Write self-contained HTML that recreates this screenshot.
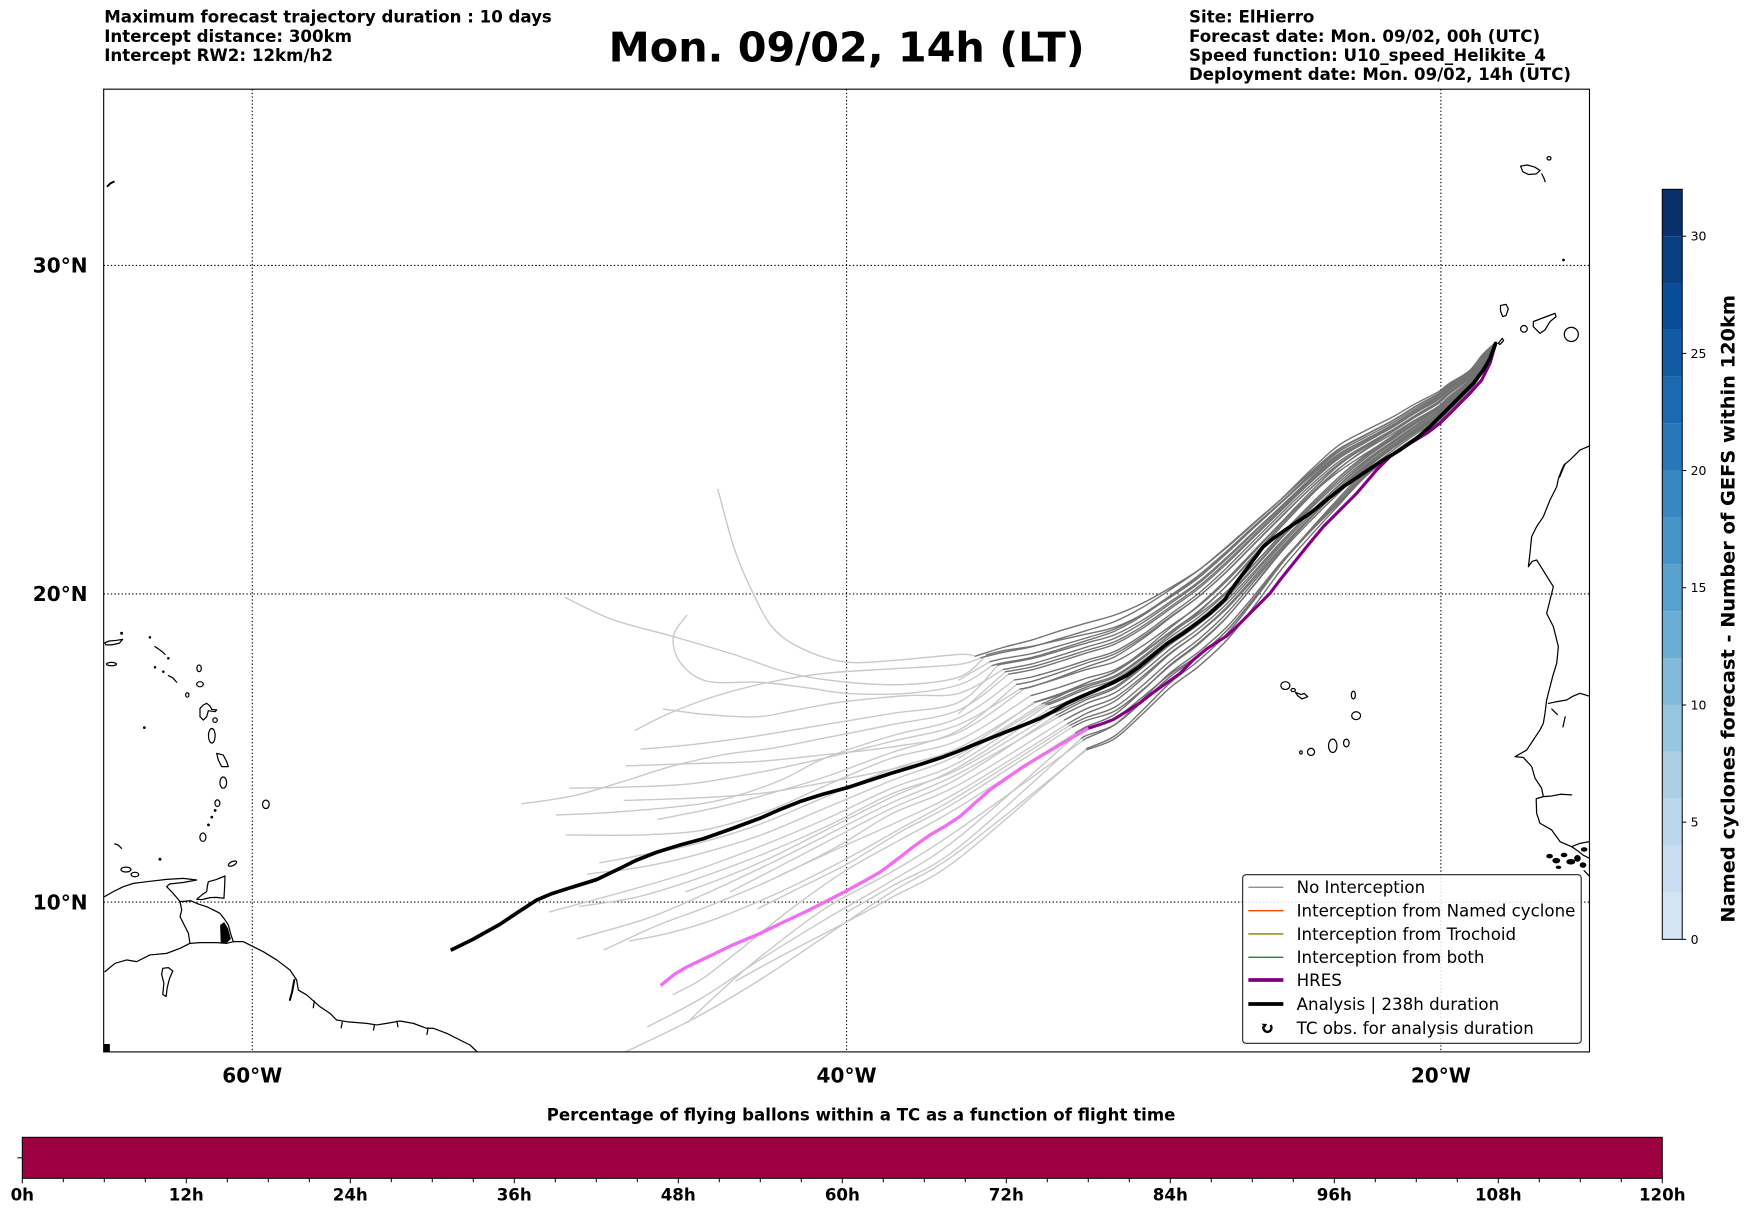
<!DOCTYPE html>
<html><head><meta charset="utf-8">
<style>
html,body{margin:0;padding:0;background:#fff}
svg{display:block}
text{font-family:"DejaVu Sans","Liberation Sans",sans-serif}
.b{font-weight:bold}
</style></head>
<body>
<svg id="s" xmlns="http://www.w3.org/2000/svg" width="1748" height="1213" viewBox="0 0 1568 1088.1" preserveAspectRatio="none">
<defs>
<clipPath id="ax"><rect x="93" y="80" width="1332.8" height="863.6"/></clipPath>
</defs>
<rect x="0" y="0" width="1568" height="1088.1" fill="#fff"/>

<!-- Header texts -->
<g class="b" font-size="14.95" fill="#000">
<text x="93.5" y="20.3" textLength="401.5" lengthAdjust="spacingAndGlyphs">Maximum forecast trajectory duration : 10 days</text>
<text x="93.5" y="37.5">Intercept distance: 300km</text>
<text x="93.5" y="54.7">Intercept RW2: 12km/h2</text>
<text x="1066.6" y="20.3">Site: ElHierro</text>
<text x="1066.6" y="37.5">Forecast date: Mon. 09/02, 00h (UTC)</text>
<text x="1066.6" y="54.7">Speed function: U10_speed_Helikite_4</text>
<text x="1066.6" y="71.9" textLength="342.6" lengthAdjust="spacingAndGlyphs">Deployment date: Mon. 09/02, 14h (UTC)</text>
</g>
<text class="b" x="546" y="55.3" font-size="37" textLength="427" lengthAdjust="spacingAndGlyphs">Mon. 09/02, 14h (LT)</text>

<!-- Map content -->
<g clip-path="url(#ax)">
<!-- coastlines -->
<g fill="none" stroke="#000" stroke-width="1.1" stroke-linejoin="round" stroke-linecap="round">
<polyline points="1425.8,400 1417.3,403.7 1408.3,412.6 1403,417 1400.9,421.6 1398,429 1396.4,436.6 1390.4,448.5 1384.4,463.5 1378.4,472.4 1373.9,481.4 1372.4,496.4 1371,508.3 1374.5,503.5 1378.4,502.3 1382,508 1385.9,514.3 1393.4,526.3 1390.4,538.2 1387.4,550.2 1393.4,562.1 1397.9,580.1 1396.4,595 1393,606 1390.4,616 1387.4,627.9 1385.9,639.9 1384.4,648.9 1381.4,654.8 1375.4,663.8 1369.5,672.8 1359,678.7 1366.5,679.5 1374,687.7 1377,698.2 1382.9,707.1 1384.4,714.6 1378,716.5 1378.4,729.6 1381.4,738.5 1391.9,744.5 1399.4,755 1409.8,759.5 1417.3,756.5 1425.8,755"/>
<polyline points="1404,416 1401,423 1399,428"/>
<polyline points="1389,631 1396,629.5 1405.3,627.9 1411,624.5 1417.3,621.9 1425.8,624.5"/>
<polyline points="1392,636 1397,641"/>
<polyline points="1404,643 1402,652"/>
<polyline points="1384.4,714.6 1392,714 1400,712.5 1409.8,713"/>
<polyline points="1409.8,759.5 1415,763 1420,767 1425.8,770"/>
<polyline points="1421,781 1425.8,786"/>
<!-- Madeira etc -->
<polygon points="1364,149 1370,148 1377,150 1381.5,153 1378,156 1371,156.5 1366,154"/>
<ellipse cx="1389.5" cy="142" rx="1.8" ry="1.5"/>
<polyline points="1383,156 1385,160 1386,163"/>
<circle cx="1402.5" cy="233.2" r="0.7"/>
<!-- Canaries -->
<polygon points="1346,274 1351,273 1353,277 1351,283 1348,284 1346,279"/>
<polygon points="1375.4,288.5 1382.9,285.6 1394.9,281.1 1395.8,284 1390.4,288.5 1385.9,296 1381.4,299 1375.4,293"/>
<circle cx="1367" cy="295" r="3"/>
<polygon points="1344,308 1347.5,303.5 1348.8,305.5 1345.5,309"/>
<circle cx="1409.5" cy="300" r="6.3"/>
<!-- Cape Verde -->
<ellipse cx="1153" cy="615" rx="4" ry="3.5"/>
<ellipse cx="1160" cy="619" rx="2" ry="1.4"/>
<polygon points="1162,621 1167,623 1170,622 1173,625 1168,627 1164,624"/>
<ellipse cx="1214" cy="623.5" rx="1.8" ry="3.5"/>
<ellipse cx="1216.5" cy="642" rx="4" ry="3.5"/>
<ellipse cx="1207.7" cy="666.5" rx="2.5" ry="3.5"/>
<ellipse cx="1195.5" cy="669" rx="3.8" ry="6"/>
<ellipse cx="1176" cy="674.5" rx="3.2" ry="3.2"/>
<ellipse cx="1167" cy="675" rx="1.2" ry="1.5"/>
<!-- Bermuda -->
<polyline points="96.5,167 99,164.5 102,163" stroke-width="1.8"/>
<!-- Caribbean -->
<polygon points="94,576.5 98,575 104,574.5 110,573.5 107,577 100,578.5 95,578.5"/>
<circle cx="109.1" cy="568.1" r="0.8"/>
<ellipse cx="100" cy="595.7" rx="4.5" ry="1.5"/>
<circle cx="134.5" cy="571.7" r="0.6"/>
<polyline points="139,580 142,582 146,585 148,587"/>
<circle cx="151" cy="590.5" r="0.6"/>
<circle cx="139" cy="598.6" r="0.6"/>
<circle cx="146.5" cy="602.5" r="0.6"/>
<polyline points="151,606 155,608 158.5,612"/>
<ellipse cx="168" cy="623.4" rx="1.5" ry="2"/>
<ellipse cx="178.6" cy="599.5" rx="2" ry="3"/>
<ellipse cx="179.4" cy="613.8" rx="3" ry="2.3"/>
<polygon points="179.4,635.4 182.4,632.4 185.4,630.9 188.4,633.3 189.9,636.3 194.4,636.9 192.9,638.4 186.9,637.5 185.4,642.9 182.4,645.9 179.4,642.9"/>
<ellipse cx="192.9" cy="646" rx="2" ry="2"/>
<ellipse cx="190" cy="660" rx="3" ry="6.5"/>
<polygon points="194.4,675.8 200.3,677.3 203.3,683.2 204.8,687.7 198.8,687.7 195.8,681.7"/>
<ellipse cx="200.3" cy="702" rx="3" ry="5"/>
<ellipse cx="195" cy="720.5" rx="2.2" ry="3"/>
<circle cx="193" cy="727" r="0.7"/>
<circle cx="190" cy="733" r="0.7"/>
<circle cx="187" cy="740" r="0.7"/>
<ellipse cx="182" cy="751" rx="2.7" ry="3.8"/>
<ellipse cx="238.5" cy="721.5" rx="3" ry="3.8"/>
<circle cx="129.5" cy="652.7" r="0.7"/>
<polyline points="103,757 106,758 109,761"/>
<circle cx="143.5" cy="770.8" r="0.8"/>
<ellipse cx="208.5" cy="774.7" rx="4" ry="1.8" transform="rotate(-25 208.5 774.7)"/>
<ellipse cx="113" cy="780" rx="4.5" ry="2.2"/>
<ellipse cx="121" cy="784.5" rx="3.5" ry="2"/>
<polyline points="93,804.7 101.7,799.8 110.6,795.4 119.6,792.4 131.6,790.9 149.5,788.8 164.5,787.9 176.4,789.4 165,791.5 152,793 149.5,795.4 155,801 161.5,808.8 171,808 178,811 185.4,813.3 191,816 197.3,819.3 201,824 204.8,829.7 207,838 209.3,844.7 218.3,844.7 227.2,849.2 236.2,853.7 248.2,861.1 260.1,870.1 266.1,879.1 267.6,888.1 275.1,892.5 287,903 296,909 302,915 311,916.5 328.9,918 337.9,919.4 346.9,918 358.8,915.9 370.8,918 382.7,922.4 388.7,922.4 400.7,926.9 412.6,932.9 421.6,937.4 428.5,944"/>
<polyline points="94.2,871.6 103.2,864.1 113.6,861.1 122.6,862.6 134.5,856.6 149.5,855.2 161.5,850.7 170.4,846.2 179.4,845.6 194.4,845.6 203.3,846.2 209.3,844.7"/>
<polyline points="161.5,808.8 163,816.3 161.5,822.3 166,831.2 169,837.2 170.4,846.2"/>
<polygon points="198,830 201,828 204,833 206.5,842 203,845.5 198.5,845" fill="#000"/>
<polygon points="186.9,790.9 194,789 201.8,785.8 201.5,795 200.9,805.8 194,805 188.4,805.2 181,807 176.4,806.7 182,802 185.4,799.8 186,795"/>
<polyline points="264,879 262,890 260,897" stroke-width="1.8"/>
<polygon points="146,868.6 151,868 155,871 152,878 150,886 149,894 146,892 147,882 145,874"/>
<polyline points="282,898 281,904"/><polyline points="307,917 306,922"/><polyline points="336,919 335,924"/><polyline points="356,916 357,921"/><polyline points="384,922 383,928"/>
<rect x="93" y="937" width="5" height="6" fill="#000"/>
</g>
<g fill="#000">
<ellipse cx="1390" cy="768" rx="3" ry="2"/><ellipse cx="1396" cy="772" rx="3.5" ry="2.5"/><ellipse cx="1403" cy="767" rx="3" ry="2"/><ellipse cx="1409" cy="773" rx="4" ry="2.5"/><ellipse cx="1415" cy="770" rx="3" ry="3"/><ellipse cx="1420" cy="776" rx="3" ry="2.5"/><ellipse cx="1398" cy="778" rx="2.5" ry="1.5"/><ellipse cx="1421" cy="762" rx="3" ry="2"/>
</g>

<!-- gridlines -->
<g stroke="#000" stroke-width="1" stroke-dasharray="1.2 2" fill="none">
<line x1="226.3" y1="80" x2="226.3" y2="943.6"/>
<line x1="759.4" y1="80" x2="759.4" y2="943.6"/>
<line x1="1292.5" y1="80" x2="1292.5" y2="943.6"/>
<line x1="93" y1="238.1" x2="1425.8" y2="238.1"/>
<line x1="93" y1="532.8" x2="1425.8" y2="532.8"/>
<line x1="93" y1="809.2" x2="1425.8" y2="809.2"/>
</g>

<!-- ensemble trajectories (generated) -->
<g id="light" fill="none" stroke="#c9c9c9" stroke-width="1.25" stroke-linejoin="round" stroke-linecap="round"></g>
<g id="dark" fill="none" stroke="#737373" stroke-width="1.25" stroke-linejoin="round" stroke-linecap="round"></g>

<!-- HRES -->
<polyline fill="none" stroke="#f06ef0" stroke-width="3" stroke-linejoin="round" stroke-linecap="butt" points="976.3,653.3 962,661.5 947.9,669.8 933,678.5 918,687.7 903,698 888,708.6 875,720 861.1,732.4 848,741 834.2,749 820,759 807.3,769 789.4,782.4 775,790.5 759.5,799 742,808 723.6,817.4 702,827.5 681.7,837.4 657.8,847.4 637,857.5 616,867.4 605,874 592.6,884.1"/>
<polyline fill="none" stroke="#870087" stroke-width="2.8" stroke-linejoin="round" stroke-linecap="butt" points="1342,307 1336.6,325.9 1329.1,340.9 1318.6,352.8 1309.7,361.8 1300.7,370.8 1291.7,379.7 1279.8,388.7 1264.8,397.7 1246.9,409.6 1234.9,421.6 1226,432 1217,442.5 1199,460.5 1187.1,472.4 1172.1,490.4 1160.2,505.3 1148.2,520.3 1139.2,532.2 1127.3,544.2 1112.3,559.2 1100.4,570.5 1082.4,582 1070.4,592 1058.5,604 1046,613 1034,621.5 1022.6,630.5 1010,638.5 998.7,645.5 988,649.5 976.3,653.3"/>
<!-- Analysis -->
<polyline fill="none" stroke="#000" stroke-width="3.3" stroke-linejoin="round" stroke-linecap="butt" points="1342,307 1336.6,321.4 1330.6,331.9 1321.6,343.9 1312.6,352.8 1300.7,364.8 1291.7,373.8 1282.7,382.7 1270.8,393.2 1255.8,403.7 1240.9,412.6 1222.9,424.6 1205,436.6 1190,448.5 1175.1,460.5 1157.2,472.4 1142.2,482.9 1133.2,490.4 1124.3,502.3 1115.3,514.3 1106.3,526.3 1098.5,538 1085.4,550.2 1073.4,559.2 1061.5,568.1 1046.5,577.6 1034,588 1022,598 1010.6,606 997,613 983.7,619 970,625 956.8,631 945,638 932.9,644.4 918,650.5 903,656.3 888,662.3 873.1,668.3 858,674.5 843.2,680 820,687.5 798.3,694 780,700 759.5,706.7 738,712.5 717.6,719 700,726 681.7,734 656,743.5 630.9,752.4 610,758 589,764.5 570,772 556.1,779 535.2,789 508.3,797.4 494,802 481.4,807.4 465,818 448.5,829.1 436,836 424.6,842.4 404.3,852.4"/>
</g>

<!-- axes frame -->
<rect x="93" y="80" width="1332.8" height="863.6" fill="none" stroke="#000" stroke-width="1"/>

<!-- axis labels -->
<g class="b" font-size="18" fill="#000">
<text x="78.5" y="244.6" text-anchor="end">30°N</text>
<text x="78.5" y="539.3" text-anchor="end">20°N</text>
<text x="78.5" y="815.7" text-anchor="end">10°N</text>
<text x="226.3" y="971.2" text-anchor="middle">60°W</text>
<text x="759.4" y="971.2" text-anchor="middle">40°W</text>
<text x="1292.5" y="971.2" text-anchor="middle">20°W</text>
</g>

<!-- legend -->
<rect x="1114.7" y="784.6" width="303.7" height="151.3" rx="3" ry="3" fill="#fff" fill-opacity="0.85" stroke="#222" stroke-width="1"/>
<g stroke-linecap="butt">
<line x1="1119.8" y1="795.9" x2="1151.2" y2="795.9" stroke="#808080" stroke-width="1.2"/>
<line x1="1119.8" y1="816.9" x2="1151.2" y2="816.9" stroke="#ff4500" stroke-width="1.2"/>
<line x1="1119.8" y1="837.8" x2="1151.2" y2="837.8" stroke="#808000" stroke-width="1.2"/>
<line x1="1119.8" y1="858.7" x2="1151.2" y2="858.7" stroke="#008000" stroke-width="1.2"/>
<line x1="1119.8" y1="879.1" x2="1151.2" y2="879.1" stroke="#800080" stroke-width="3.3"/>
<line x1="1119.8" y1="900.6" x2="1151.2" y2="900.6" stroke="#000" stroke-width="3.3"/>
</g>
<path d="M1133.6,920.6 A3.6,3.6 0 1 0 1139.6,919.6" fill="none" stroke="#000" stroke-width="2.2"/>
<path d="M1131.6,918.2 L1134.8,921.8 L1136.6,918.6 Z" fill="#000"/>
<g font-size="14.95" fill="#000">
<text x="1163.1" y="801.2">No Interception</text>
<text x="1163.1" y="822.2">Interception from Named cyclone</text>
<text x="1163.1" y="843.1">Interception from Trochoid</text>
<text x="1163.1" y="864">Interception from both</text>
<text x="1163.1" y="884.4">HRES</text>
<text x="1163.1" y="905.9">Analysis | 238h duration</text>
<text x="1163.1" y="927.7">TC obs. for analysis duration</text>
</g>

<!-- right colorbar -->
<g>
<rect x="1491.1" y="800.55" width="17.9" height="42.05" fill="#d5e5f4"/>
<rect x="1491.1" y="758.5" width="17.9" height="42.05" fill="#cbdef1"/>
<rect x="1491.1" y="716.45" width="17.9" height="42.05" fill="#bcd7ec"/>
<rect x="1491.1" y="674.4" width="17.9" height="42.05" fill="#abcfe5"/>
<rect x="1491.1" y="632.35" width="17.9" height="42.05" fill="#97c6e0"/>
<rect x="1491.1" y="590.3" width="17.9" height="42.05" fill="#81badb"/>
<rect x="1491.1" y="548.25" width="17.9" height="42.05" fill="#6aaed6"/>
<rect x="1491.1" y="506.2" width="17.9" height="42.05" fill="#58a1cf"/>
<rect x="1491.1" y="464.15" width="17.9" height="42.05" fill="#4695c8"/>
<rect x="1491.1" y="422.1" width="17.9" height="42.05" fill="#3787c0"/>
<rect x="1491.1" y="380.05" width="17.9" height="42.05" fill="#2878b9"/>
<rect x="1491.1" y="338" width="17.9" height="42.05" fill="#1b6aaf"/>
<rect x="1491.1" y="295.95" width="17.9" height="42.05" fill="#105ba4"/>
<rect x="1491.1" y="253.9" width="17.9" height="42.05" fill="#084d96"/>
<rect x="1491.1" y="211.85" width="17.9" height="42.05" fill="#083f81"/>
<rect x="1491.1" y="169.8" width="17.9" height="42.05" fill="#08306b"/>
<rect x="1491.1" y="169.8" width="17.9" height="672.8" fill="none" stroke="#000" stroke-width="0.9"/>
<g stroke="#000" stroke-width="0.9">
<line x1="1509" y1="842.6" x2="1512.6" y2="842.6"/>
<line x1="1509" y1="737.5" x2="1512.6" y2="737.5"/>
<line x1="1509" y1="632.4" x2="1512.6" y2="632.4"/>
<line x1="1509" y1="527.2" x2="1512.6" y2="527.2"/>
<line x1="1509" y1="422.1" x2="1512.6" y2="422.1"/>
<line x1="1509" y1="317" x2="1512.6" y2="317"/>
<line x1="1509" y1="211.9" x2="1512.6" y2="211.9"/>
</g>
<g font-size="11.2" fill="#000">
<text x="1516.5" y="846.6">0</text>
<text x="1516.5" y="741.5">5</text>
<text x="1516.5" y="636.4">10</text>
<text x="1516.5" y="531.2">15</text>
<text x="1516.5" y="426.1">20</text>
<text x="1516.5" y="321">25</text>
<text x="1516.5" y="215.9">30</text>
</g>
<text class="b" font-size="17" transform="translate(1556,546.1) rotate(-90)" text-anchor="middle" textLength="563" lengthAdjust="spacingAndGlyphs">Named cyclones forecast - Number of GEFS within 120km</text>
</g>

<!-- bottom colorbar -->
<text class="b" x="490.4" y="1005.3" font-size="14.95" textLength="564" lengthAdjust="spacingAndGlyphs">Percentage of flying ballons within a TC as a function of flight time</text>
<rect x="20" y="1020.2" width="1471.1" height="36.8" fill="#9e0142" stroke="#000" stroke-width="0.9"/>
<line x1="15.5" y1="1038.6" x2="20" y2="1038.6" stroke="#000" stroke-width="0.9"/>
<g id="bticks" stroke="#000" stroke-width="0.9"></g>
<g class="b" font-size="14.95" fill="#000" text-anchor="middle">
<text x="20" y="1077">0h</text>
<text x="167.1" y="1077">12h</text>
<text x="314.2" y="1077">24h</text>
<text x="461.3" y="1077">36h</text>
<text x="608.4" y="1077">48h</text>
<text x="755.6" y="1077">60h</text>
<text x="902.7" y="1077">72h</text>
<text x="1049.8" y="1077">84h</text>
<text x="1196.9" y="1077">96h</text>
<text x="1344" y="1077">108h</text>
<text x="1491.1" y="1077">120h</text>
</g>
</svg>
<script>
(function(){
var NS='http://www.w3.org/2000/svg';
function f(v){return v.toFixed(1);}
function cr(p){
  var d='M'+f(p[0][0])+','+f(p[0][1]);
  for(var i=0;i<p.length-1;i++){
    var p0=p[i-1]||p[i],p1=p[i],p2=p[i+1],p3=p[i+2]||p2;
    var c1=[p1[0]+(p2[0]-p0[0])/6,p1[1]+(p2[1]-p0[1])/6];
    var c2=[p2[0]-(p3[0]-p1[0])/6,p2[1]-(p3[1]-p1[1])/6];
    d+='C'+f(c1[0])+','+f(c1[1])+' '+f(c2[0])+','+f(c2[1])+' '+f(p2[0])+','+f(p2[1]);
  }
  return d;
}
function add(g,d){var e=document.createElementNS(NS,'path');e.setAttribute('d',d);g.appendChild(e);}
var EX=[1342,1330,1318,1300,1290,1270,1250,1225,1200,1175,1150,1125,1100,1075,1050,1025,1000,975,950,925,900,875];
var ET=[307,318,333,345,353,364,376,388,400,420,443,465,488,510,528,544,556,563,569,575,579,585];
var EB=[307,334,352,370,381,395,410,432,460,487,515,548,578,600,618,642,665,676,692,705,712,720];
function env(x,s){
  for(var i=0;i<EX.length-1;i++){
    if(x<=EX[i]&&x>=EX[i+1]){
      var t=(EX[i]-x)/(EX[i]-EX[i+1]);
      var tp=ET[i]+t*(ET[i+1]-ET[i]),bt=EB[i]+t*(EB[i+1]-EB[i]);
      return tp+s*(bt-tp);
    }
  }
  return ET[ET.length-1]+s*(EB[EB.length-1]-ET[ET.length-1]);
}
var M=[
 [0.00,875,[[861,587],[807,592],[760,594],[724,584],[694,564],[673,527],[658,490],[644,439]]],
 [0.06,885,[[861,607],[813,614],[760,612],[709,604],[658,587],[604,571],[550,556],[507,536]]],
 [0.10,890,[[861,614],[813,622],[760,622],[724,617],[682,612],[634,611],[610,594],[604,571],[616,552]]],
 [0.16,900,[[860,622],[813,624],[753,630],[709,638],[679,643],[634,641],[595,636]]],
 [0.20,905,[[860,637],[800,650],[740,662],[694,671],[649,677],[604,687],[559,701],[514,714],[468,721]]],
 [0.25,910,[[860,644],[800,660],[740,680],[700,700],[649,717],[604,724],[544,729],[499,731]]],
 [0.30,915,[[860,650],[800,665],[740,680],[680,693],[620,703],[562,706],[511,707]]],
 [0.34,920,[[860,657],[800,670],[740,677],[680,683],[620,685],[562,687]]],
 [0.38,925,[[860,664],[800,680],[740,705],[690,727],[634,744],[574,749],[508,749]]],
 [0.42,930,[[860,671],[800,690],[740,715],[680,740],[620,758],[570,768],[538,774]]],
 [0.46,935,[[860,677],[800,700],[740,725],[680,750],[620,768],[574,778],[527,784]]],
 [0.50,940,[[860,684],[800,707],[740,735],[680,760],[620,782],[570,797],[493,818]]],
 [0.55,945,[[860,690],[800,712],[740,742],[680,768],[620,790],[570,805],[520,813]]],
 [0.60,950,[[860,694],[800,720],[740,750],[690,775],[630,803],[580,824],[518,842]]],
 [0.65,955,[[860,704],[800,730],[750,760],[690,790],[630,815],[590,830],[542,852]]],
 [0.70,960,[[860,714],[810,742],[760,770],[700,800],[640,825],[600,837],[565,844]]],
 [0.76,965,[[860,724],[810,752],[760,780],[710,815],[660,855],[630,878],[604,892]]],
 [0.82,970,[[860,751],[800,790],[740,825],[680,862],[630,895],[581,921]]],
 [0.88,972,[[860,744],[800,782],[740,815],[680,860],[640,895],[617,917]]],
 [0.95,975,[[860,764],[800,800],[740,840],[680,880],[620,915],[556,946]]],
 [0.03,880,[[860,596],[800,600],[740,604],[690,612],[640,625],[600,640],[570,655]]],
 [0.13,895,[[860,630],[800,640],[740,650],[680,660],[620,668],[575,672]]],
 [0.28,912,[[860,655],[800,675],[740,697],[690,712],[640,725],[590,735]]],
 [0.52,942,[[860,688],[800,715],[740,745],[690,770],[650,787],[615,800]]],
 [0.58,948,[[860,698],[800,725],[740,756],[690,782],[655,800]]],
 [0.73,962,[[860,718],[810,745],[760,775],[710,800],[680,815]]],
 [0.92,975,[[860,770],[800,805],[750,832],[700,858],[660,880]]],
 [0.40,928,[[860,674],[800,690],[740,702],[680,712],[620,716],[560,718]]],
 [0.67,958,[[860,710],[810,735],[750,762],[700,785]]],
 [0.85,970,[[860,760],[800,795],[760,818]]],
 [0.08,888,[[860,610]]],
 [0.18,902,[[860,640]]],
 [0.48,938,[[860,680]]]
];
var gL=document.getElementById('light'),gD=document.getElementById('dark');
for(var k=0;k<M.length;k++){
  var s=M[k][0],xT=M[k][1],mids=M[k][2];
  var a=(((k*37)%9)-4)*1.1,ph=k*1.3,per=45+((k*13)%5)*8;
  var xs=EX.filter(function(x){return x>xT;}).concat([xT]);
  var pts=xs.map(function(x){var w=Math.min(1,(1342-x)/150);return [x,env(x,s)+a*Math.sin((1342-x)/per+ph)*w];});
  add(gL,cr([pts[pts.length-1]].concat(mids)));
  add(gD,cr(pts));
}
var bt=document.getElementById('bticks');
for(var i=0;i<=40;i++){
  var x=20+i*1471.1/40;
  var l=document.createElementNS(NS,'line');
  l.setAttribute('x1',x.toFixed(2));l.setAttribute('x2',x.toFixed(2));
  l.setAttribute('y1','1057');l.setAttribute('y2',(i%4===0?'1061.5':'1060.5'));
  bt.appendChild(l);
}
})();
</script>
</body></html>
